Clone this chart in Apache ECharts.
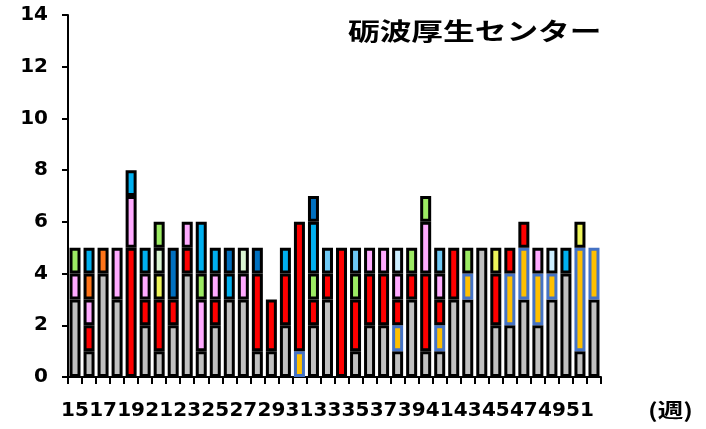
<!DOCTYPE html>
<html><head><meta charset="utf-8">
<script src="https://cdn.jsdelivr.net/npm/echarts@6/dist/echarts.min.js"></script>
<style>html,body{margin:0;padding:0;background:#fff}#c{width:706px;height:429px}</style>
</head><body><div id="c"></div>
<script>
const weeks = ['15','16','17','18','19','20','21','22','23','24','25','26','27','28','29','30','31','32','33','34','35','36','37','38','39','40','41','42','43','44','45','46','47','48','49','50','51','52'];
//            15 16 17 18 19 20 21 22 23 24 25 26 27 28 29 30 31 32 33 34 35 36 37 38 39 40 41 42 43 44 45 46 47 48 49 50 51 52
const gray  = [3, 1, 4, 3, 0, 2, 1, 2, 4, 1, 2, 3, 3, 1, 1, 2, 0, 2, 3, 0, 1, 2, 2, 1, 3, 1, 1, 3, 3, 5, 2, 2, 3, 2, 3, 4, 1, 3];
const gold  = [0, 0, 0, 0, 0, 0, 0, 0, 0, 0, 0, 0, 0, 0, 0, 0, 1, 0, 0, 0, 0, 0, 0, 1, 0, 0, 1, 0, 1, 0, 0, 2, 2, 2, 1, 0, 4, 2];
const red   = [0, 1, 0, 0, 5, 1, 2, 1, 1, 0, 1, 0, 0, 3, 2, 2, 5, 1, 1, 5, 2, 2, 2, 1, 1, 3, 1, 2, 0, 0, 2, 1, 1, 0, 0, 0, 0, 0];
const pink  = [1, 1, 0, 2, 2, 1, 0, 0, 1, 2, 1, 0, 1, 0, 0, 0, 0, 0, 0, 0, 0, 1, 1, 1, 0, 2, 1, 0, 0, 0, 0, 0, 0, 1, 0, 0, 0, 0];
const yellow= [0, 0, 0, 0, 0, 0, 1, 0, 0, 0, 0, 0, 0, 0, 0, 0, 0, 0, 0, 0, 0, 0, 0, 0, 0, 0, 0, 0, 0, 0, 1, 0, 0, 0, 0, 0, 1, 0];
const orange= [0, 1, 1, 0, 0, 0, 0, 0, 0, 0, 0, 0, 0, 0, 0, 0, 0, 0, 0, 0, 0, 0, 0, 0, 0, 0, 0, 0, 0, 0, 0, 0, 0, 0, 0, 0, 0, 0];
const paleGreen=[0,0, 0, 0, 0, 0, 1, 0, 0, 0, 0, 0, 1, 0, 0, 0, 0, 0, 0, 0, 0, 0, 0, 0, 0, 0, 0, 0, 0, 0, 0, 0, 0, 0, 0, 0, 0, 0];
const green = [1, 0, 0, 0, 0, 0, 1, 0, 0, 1, 0, 0, 0, 0, 0, 0, 0, 1, 0, 0, 1, 0, 0, 0, 1, 1, 0, 0, 1, 0, 0, 0, 0, 0, 0, 0, 0, 0];
const paleBlue=[0,0, 0, 0, 0, 0, 0, 0, 0, 0, 0, 0, 0, 0, 0, 0, 0, 0, 0, 0, 0, 0, 0, 1, 0, 0, 0, 0, 0, 0, 0, 0, 0, 0, 1, 0, 0, 0];
const skyBlue=[0, 0, 0, 0, 0, 0, 0, 0, 0, 0, 0, 0, 0, 0, 0, 0, 0, 0, 1, 0, 1, 0, 0, 0, 0, 0, 1, 0, 0, 0, 0, 0, 0, 0, 0, 0, 0, 0];
const cyan  = [0, 1, 0, 0, 1, 1, 0, 0, 0, 2, 1, 1, 0, 0, 0, 1, 0, 2, 0, 0, 0, 0, 0, 0, 0, 0, 0, 0, 0, 0, 0, 0, 0, 0, 0, 1, 0, 0];
const darkBlue=[0,0, 0, 0, 0, 0, 0, 2, 0, 0, 0, 1, 0, 1, 0, 0, 0, 1, 0, 0, 0, 0, 0, 0, 0, 0, 0, 0, 0, 0, 0, 0, 0, 0, 0, 0, 0, 0];
const yTicks = [0, 2, 4, 6, 8, 10, 12, 14];

const layers = [
  [gray, '#C0C0C0', '#000'],
  [gold, '#FFC000', '#4472C4'],
  [red, '#FF0000', '#000'],
  [pink, '#FFAAFF', '#000'],
  [yellow, '#EEF55A', '#000'],
  [orange, '#FF7418', '#000'],
  [paleGreen, '#DAF5D2', '#000'],
  [green, '#9CEB63', '#000'],
  [paleBlue, '#CCEEFF', '#000'],
  [skyBlue, '#6DC8F5', '#000'],
  [cyan, '#00B0F0', '#000'],
  [darkBlue, '#0070C0', '#000']
];

const chart = echarts.init(document.getElementById('c'), null, {renderer: 'canvas'});
chart.setOption({
  animation: false,
  backgroundColor: '#fff',
  grid: {left: 68, right: 105, top: 15, bottom: 52, containLabel: false},
  xAxis: {
    type: 'category', data: weeks,
    axisLine: {lineStyle: {color: '#000', width: 2}},
    axisTick: {show: true, interval: 0, length: 7, lineStyle: {color: '#000', width: 2}},
    axisLabel: {interval: 1, margin: 24, color: '#000', fontFamily: 'DejaVu Sans', fontWeight: 'bold', fontSize: 20}
  },
  yAxis: {
    type: 'value', min: yTicks[0], max: yTicks[yTicks.length - 1], interval: 2,
    splitLine: {show: false},
    axisLine: {show: true, lineStyle: {color: '#000', width: 2}},
    axisTick: {show: true, length: 6, lineStyle: {color: '#000', width: 2}},
    axisLabel: {margin: 20, color: '#000', fontFamily: 'DejaVu Sans', fontWeight: 'bold', fontSize: 20}
  },
  series: layers.map(([vals, color, border]) => ({
    type: 'bar', stack: 'all', barWidth: 11,
    data: vals.map(v => v === 0 ? null : v),
    itemStyle: {color: color, borderColor: border, borderWidth: 3},
    emphasis: {disabled: true}
  })),
  graphic: [
    {type: 'text', x: 348, y: 19, scaleX: 1.32, style: {text: '砺波厚生センター', font: 'bold 24px "Noto Sans CJK JP"', fill: '#000'}},
    {type: 'text', x: 648, y: 400, scaleX: 1.28, style: {text: '(週)', font: 'bold 20px "Noto Sans CJK JP"', fill: '#000'}}
  ]
});
</script></body></html>
